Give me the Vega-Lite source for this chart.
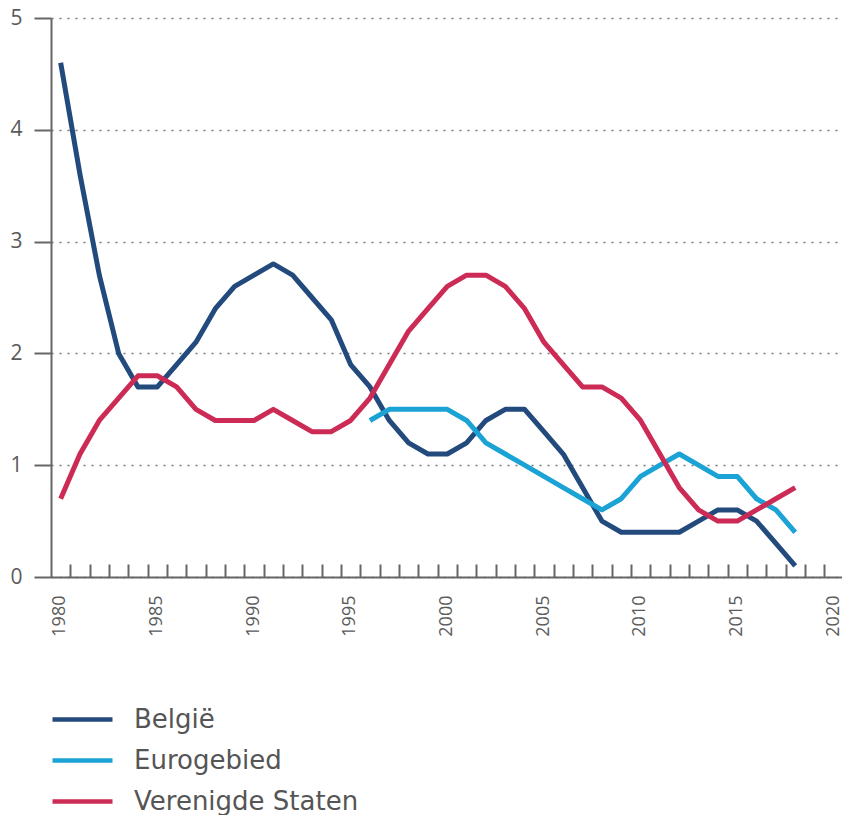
{
  "$schema": "https://vega.github.io/schema/vega-lite/v6.json",
  "width": 791,
  "height": 559,
  "autosize": "none",
  "padding": {"left": 51, "top": 18, "right": 0, "bottom": 238},
  "background": "white",
  "config": {
    "view": {"stroke": null},
    "font": "Open Sans",
    "axis": {"labelFont": "Open Sans", "labelColor": "#5a5a5a", "domainColor": "#666666", "tickColor": "#666666"}
  },
  "data": {
    "values": [
      {"year": 1980, "series": "België", "value": 4.6},
      {"year": 1981, "series": "België", "value": 3.6},
      {"year": 1982, "series": "België", "value": 2.7},
      {"year": 1983, "series": "België", "value": 2.0},
      {"year": 1984, "series": "België", "value": 1.7},
      {"year": 1985, "series": "België", "value": 1.7},
      {"year": 1986, "series": "België", "value": 1.9},
      {"year": 1987, "series": "België", "value": 2.1},
      {"year": 1988, "series": "België", "value": 2.4},
      {"year": 1989, "series": "België", "value": 2.6},
      {"year": 1990, "series": "België", "value": 2.7},
      {"year": 1991, "series": "België", "value": 2.8},
      {"year": 1992, "series": "België", "value": 2.7},
      {"year": 1993, "series": "België", "value": 2.5},
      {"year": 1994, "series": "België", "value": 2.3},
      {"year": 1995, "series": "België", "value": 1.9},
      {"year": 1996, "series": "België", "value": 1.7},
      {"year": 1997, "series": "België", "value": 1.4},
      {"year": 1998, "series": "België", "value": 1.2},
      {"year": 1999, "series": "België", "value": 1.1},
      {"year": 2000, "series": "België", "value": 1.1},
      {"year": 2001, "series": "België", "value": 1.2},
      {"year": 2002, "series": "België", "value": 1.4},
      {"year": 2003, "series": "België", "value": 1.5},
      {"year": 2004, "series": "België", "value": 1.5},
      {"year": 2005, "series": "België", "value": 1.3},
      {"year": 2006, "series": "België", "value": 1.1},
      {"year": 2007, "series": "België", "value": 0.8},
      {"year": 2008, "series": "België", "value": 0.5},
      {"year": 2009, "series": "België", "value": 0.4},
      {"year": 2010, "series": "België", "value": 0.4},
      {"year": 2011, "series": "België", "value": 0.4},
      {"year": 2012, "series": "België", "value": 0.4},
      {"year": 2013, "series": "België", "value": 0.5},
      {"year": 2014, "series": "België", "value": 0.6},
      {"year": 2015, "series": "België", "value": 0.6},
      {"year": 2016, "series": "België", "value": 0.5},
      {"year": 2017, "series": "België", "value": 0.3},
      {"year": 2018, "series": "België", "value": 0.1},
      {"year": 1996, "series": "Eurogebied", "value": 1.4},
      {"year": 1997, "series": "Eurogebied", "value": 1.5},
      {"year": 1998, "series": "Eurogebied", "value": 1.5},
      {"year": 1999, "series": "Eurogebied", "value": 1.5},
      {"year": 2000, "series": "Eurogebied", "value": 1.5},
      {"year": 2001, "series": "Eurogebied", "value": 1.4},
      {"year": 2002, "series": "Eurogebied", "value": 1.2},
      {"year": 2003, "series": "Eurogebied", "value": 1.1},
      {"year": 2004, "series": "Eurogebied", "value": 1.0},
      {"year": 2005, "series": "Eurogebied", "value": 0.9},
      {"year": 2006, "series": "Eurogebied", "value": 0.8},
      {"year": 2007, "series": "Eurogebied", "value": 0.7},
      {"year": 2008, "series": "Eurogebied", "value": 0.6},
      {"year": 2009, "series": "Eurogebied", "value": 0.7},
      {"year": 2010, "series": "Eurogebied", "value": 0.9},
      {"year": 2011, "series": "Eurogebied", "value": 1.0},
      {"year": 2012, "series": "Eurogebied", "value": 1.1},
      {"year": 2013, "series": "Eurogebied", "value": 1.0},
      {"year": 2014, "series": "Eurogebied", "value": 0.9},
      {"year": 2015, "series": "Eurogebied", "value": 0.9},
      {"year": 2016, "series": "Eurogebied", "value": 0.7},
      {"year": 2017, "series": "Eurogebied", "value": 0.6},
      {"year": 2018, "series": "Eurogebied", "value": 0.4},
      {"year": 1980, "series": "Verenigde Staten", "value": 0.7},
      {"year": 1981, "series": "Verenigde Staten", "value": 1.1},
      {"year": 1982, "series": "Verenigde Staten", "value": 1.4},
      {"year": 1983, "series": "Verenigde Staten", "value": 1.6},
      {"year": 1984, "series": "Verenigde Staten", "value": 1.8},
      {"year": 1985, "series": "Verenigde Staten", "value": 1.8},
      {"year": 1986, "series": "Verenigde Staten", "value": 1.7},
      {"year": 1987, "series": "Verenigde Staten", "value": 1.5},
      {"year": 1988, "series": "Verenigde Staten", "value": 1.4},
      {"year": 1989, "series": "Verenigde Staten", "value": 1.4},
      {"year": 1990, "series": "Verenigde Staten", "value": 1.4},
      {"year": 1991, "series": "Verenigde Staten", "value": 1.5},
      {"year": 1992, "series": "Verenigde Staten", "value": 1.4},
      {"year": 1993, "series": "Verenigde Staten", "value": 1.3},
      {"year": 1994, "series": "Verenigde Staten", "value": 1.3},
      {"year": 1995, "series": "Verenigde Staten", "value": 1.4},
      {"year": 1996, "series": "Verenigde Staten", "value": 1.6},
      {"year": 1997, "series": "Verenigde Staten", "value": 1.9},
      {"year": 1998, "series": "Verenigde Staten", "value": 2.2},
      {"year": 1999, "series": "Verenigde Staten", "value": 2.4},
      {"year": 2000, "series": "Verenigde Staten", "value": 2.6},
      {"year": 2001, "series": "Verenigde Staten", "value": 2.7},
      {"year": 2002, "series": "Verenigde Staten", "value": 2.7},
      {"year": 2003, "series": "Verenigde Staten", "value": 2.6},
      {"year": 2004, "series": "Verenigde Staten", "value": 2.4},
      {"year": 2005, "series": "Verenigde Staten", "value": 2.1},
      {"year": 2006, "series": "Verenigde Staten", "value": 1.9},
      {"year": 2007, "series": "Verenigde Staten", "value": 1.7},
      {"year": 2008, "series": "Verenigde Staten", "value": 1.7},
      {"year": 2009, "series": "Verenigde Staten", "value": 1.6},
      {"year": 2010, "series": "Verenigde Staten", "value": 1.4},
      {"year": 2011, "series": "Verenigde Staten", "value": 1.1},
      {"year": 2012, "series": "Verenigde Staten", "value": 0.8},
      {"year": 2013, "series": "Verenigde Staten", "value": 0.6},
      {"year": 2014, "series": "Verenigde Staten", "value": 0.5},
      {"year": 2015, "series": "Verenigde Staten", "value": 0.5},
      {"year": 2016, "series": "Verenigde Staten", "value": 0.6},
      {"year": 2017, "series": "Verenigde Staten", "value": 0.7},
      {"year": 2018, "series": "Verenigde Staten", "value": 0.8}
    ]
  },
  "mark": {"type": "line", "strokeWidth": 5, "strokeJoin": "round", "strokeCap": "butt"},
  "encoding": {
    "x": {
      "field": "year",
      "type": "quantitative",
      "scale": {"domain": [1979.5, 2020.42], "nice": false, "zero": false},
      "axis": {
        "title": null,
        "values": [1980,1981,1982,1983,1984,1985,1986,1987,1988,1989,1990,1991,1992,1993,1994,1995,1996,1997,1998,1999,2000,2001,2002,2003,2004,2005,2006,2007,2008,2009,2010,2011,2012,2013,2014,2015,2016,2017,2018,2019,2020],
        "format": "d",
        "labelExpr": "datum.value % 5 == 0 ? datum.label : ''",
        "tickOffset": 9.67,
        "labelOffset": -10.5,
        "tickSize": -13,
        "tickWidth": 2,
        "domainWidth": 2,
        "labelAngle": -90,
        "labelPadding": 31,
        "labelFontSize": 18,
        "labelOverlap": false,
        "labelFlush": false,
        "grid": false
      }
    },
    "y": {
      "field": "value",
      "type": "quantitative",
      "scale": {"domain": [0, 5], "nice": false},
      "axis": {
        "title": null,
        "values": [0, 1, 2, 3, 4, 5],
        "tickSize": 17,
        "tickWidth": 2,
        "domainWidth": 2,
        "labelPadding": 12,
        "labelFontSize": 21,
        "grid": true,
        "gridDash": [2, 6],
        "gridColor": "#777777",
        "gridWidth": 1.5
      }
    },
    "color": {
      "field": "series",
      "type": "nominal",
      "scale": {
        "domain": ["België", "Eurogebied", "Verenigde Staten"],
        "range": ["#234a7c", "#1aa3d4", "#cc2b55"]
      },
      "legend": {
        "title": null,
        "orient": "none",
        "legendX": 14,
        "legendY": 684,
        "direction": "vertical",
        "symbolType": "M-2,0H2",
        "symbolSize": 900,
        "symbolStrokeWidth": 4.5,
        "labelFontSize": 26,
        "labelColor": "#555555",
        "labelFont": "DejaVu Sans",
        "labelOffset": 34,
        "labelLimit": 500,
        "rowPadding": 10,
        "padding": 0
      }
    }
  }
}
